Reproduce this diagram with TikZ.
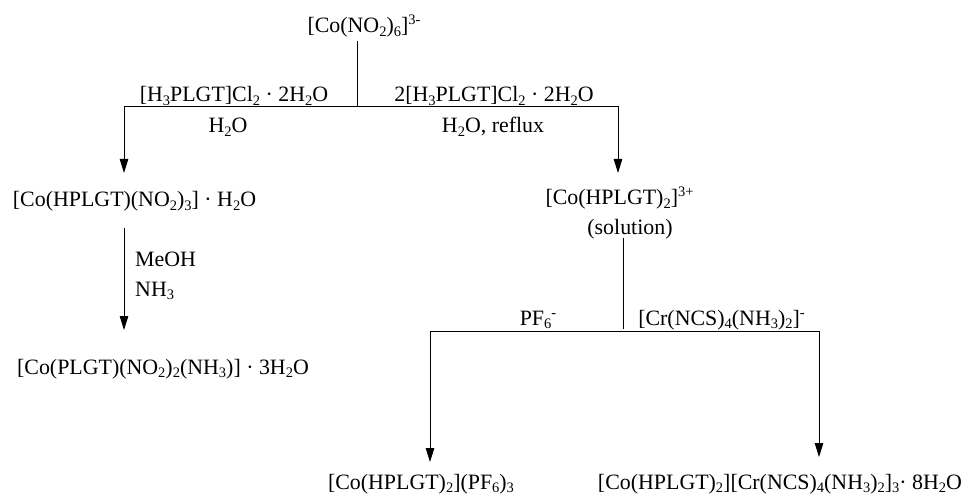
\documentclass[tikz,border=0pt]{standalone}
\usepackage{fontspec}
\setmainfont{Liberation Serif}
\usepackage{amsmath}
\usepackage{tikz}
\usetikzlibrary{arrows.meta}
\tikzset{chem/.style={inner sep=0pt,anchor=base,font=\fontsize{21.9pt}{24pt}\selectfont},
  rxn/.style={-{Triangle[length=14pt,width=8.5pt]},line width=0.9pt},
  bar/.style={line width=0.9pt}}
\newcommand{\sub}[1]{\raisebox{-3.5pt}{\fontsize{14.5pt}{14pt}\selectfont #1}}
\newcommand{\supr}[1]{\raisebox{8pt}{\fontsize{14.5pt}{14pt}\selectfont #1}}
\begin{document}
\begin{tikzpicture}[x=1pt,y=-1pt]
  \useasboundingbox (0,0) rectangle (966,494);
  % compounds
  \node[chem] (start) at (364,33) {[Co(NO\sub{2})\sub{6}]\supr{3-}};
  \node[chem] (mono) at (134.5,207) {[Co(HPLGT)(NO\sub{2})\sub{3}] · H\sub{2}O};
  \node[chem] (bis) at (619.5,205) {[Co(HPLGT)\sub{2}]\supr{3+}};
  \node[chem] (sol) at (630,235) {(solution)};
  \node[chem] (amine) at (163,374) {[Co(PLGT)(NO\sub{2})\sub{2}(NH\sub{3})] · 3H\sub{2}O};
  \node[chem] (pf) at (421,489) {[Co(HPLGT)\sub{2}](PF\sub{6})\sub{3}};
  \node[chem] (cr) at (780,489) {[Co(HPLGT)\sub{2}][Cr(NCS)\sub{4}(NH\sub{3})\sub{2}]\sub{3}· 8H\sub{2}O};

  % branch points
  \coordinate (top) at (357,106);
  \coordinate (left) at (124,106);
  \coordinate (right) at (618,106);
  \coordinate (midtop) at (623,329);
  \coordinate (leftlow) at (430,331);
  \coordinate (rightlow) at (819,331);
  \coordinate (a1) at (124,173);
  \coordinate (a2) at (618,173);
  \coordinate (b1) at (124,228);
  \coordinate (b2) at (124,330);
  \coordinate (c1) at (430,462);
  \coordinate (c2) at (819,457);
  \coordinate (s1) at (357,41);
  \coordinate (s2) at (623,238);

  % lines
  \draw[bar] (s1) -- (top);
  \draw[bar] (left) -- (right);
  \draw[rxn] (left) -- (a1);
  \draw[rxn] (right) -- (a2);
  \draw[rxn] (b1) -- (b2);
  \draw[bar] (s2) -- (midtop);
  \draw[bar] (leftlow) -- (rightlow);
  \draw[rxn] (leftlow) -- (c1);
  \draw[rxn] (rightlow) -- (c2);

  % labels
  \node[chem] (l1) at (234,102) {[H\sub{3}PLGT]Cl\sub{2} · 2H\sub{2}O};
  \node[chem] (l2) at (494,102) {2[H\sub{3}PLGT]Cl\sub{2} · 2H\sub{2}O};
  \node[chem] (l3) at (228,133) {H\sub{2}O};
  \node[chem] (l4) at (493,133) {H\sub{2}O, reflux};
  \node[chem,anchor=base west] (l5) at (135,267) {MeOH};
  \node[chem,anchor=base west] (l6) at (135,296) {NH\sub{3}};
  \node[chem] (l7) at (538,325) {PF\sub{6}\supr{-}};
  \node[chem] (l8) at (721.5,325) {[Cr(NCS)\sub{4}(NH\sub{3})\sub{2}]\supr{-}};
\end{tikzpicture}
\end{document}
